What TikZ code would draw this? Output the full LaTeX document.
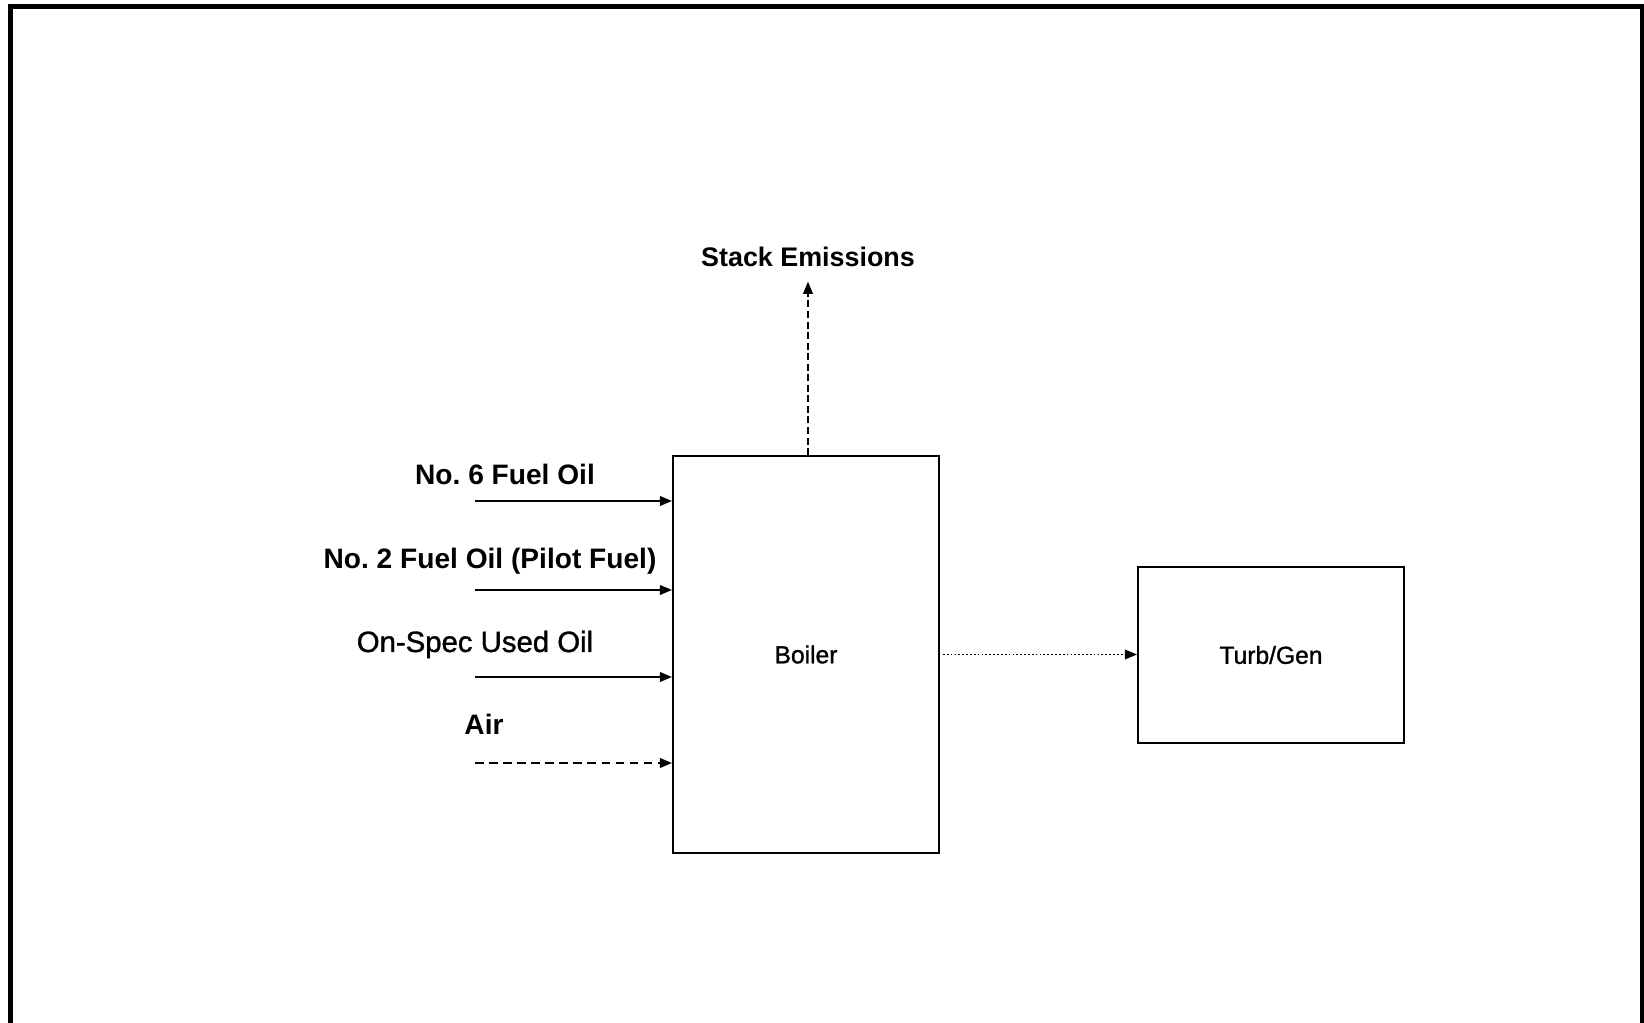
\documentclass[tikz,border=0pt]{standalone}
\usepackage{fontspec}
\setmainfont{Liberation Sans}
\newfontfamily\medfont[FakeBold=1.2]{Liberation Sans}
\usetikzlibrary{arrows.meta}

\begin{document}
\begin{tikzpicture}[x=0.02cm, y=-0.02cm, >={Triangle[length=7pt,width=5.5pt]},
  unit/.style={draw, line width=1.1pt, inner sep=0pt, font=\fontsize{14}{16}\medfont},
  stream/.style={font=\fontsize{16}{18}\selectfont\bfseries, anchor=base, inner sep=0pt},
  feed/.style={->, line width=1pt}]

  \useasboundingbox (0,0) rectangle (1644,1023);
  % page frame, open at the bottom
  \draw[line width=2.8pt] (10.5,1023) -- (10.5,6.5) -- (1642,6.5) -- (1642,1023);

  \node[unit, minimum width=5.32cm, minimum height=7.94cm] (boiler) at (806,654.5) {Boiler};
  \node[unit, minimum width=5.32cm, minimum height=3.52cm] (turbgen) at (1271,655) {Turb/Gen};

  % fuels and air into the boiler
  \coordinate (fuel6) at (475,501);
  \coordinate (fuel2) at (475,590);
  \coordinate (usedoil) at (475,677);
  \coordinate (air) at (475,763);

  \node[stream] (fuel6lbl) at (505,485) {No.\ 6 Fuel Oil};
  \node[stream] (fuel2lbl) at (490,569) {No.\ 2 Fuel Oil (Pilot Fuel)};
  \node[stream, font=\fontsize{16.7}{18}\medfont] (usedoillbl) at (475,652) {On-Spec Used Oil};
  \node[stream] (airlbl) at (484,735) {Air};

  \draw[feed] (fuel6) -- (boiler.west |- fuel6);
  \draw[feed] (fuel2) -- (boiler.west |- fuel2);
  \draw[feed] (usedoil) -- (boiler.west |- usedoil);
  \draw[feed, dash pattern=on 5pt off 3pt] (air) -- (boiler.west |- air);

  % exhaust
  \node[stream, font=\fontsize{15.3}{18}\selectfont\bfseries] (stack) at (808,267) {Stack Emissions};
  \draw[feed, dash pattern=on 4pt off 2pt, shorten >=0.28cm] (boiler.north -| stack) -- (stack.south);

  % steam to turbine
  \draw[feed, dash pattern=on 1pt off 1.2pt] ([xshift=0.06cm]boiler.east) -- (turbgen.west |- boiler.east);

\end{tikzpicture}
\end{document}
